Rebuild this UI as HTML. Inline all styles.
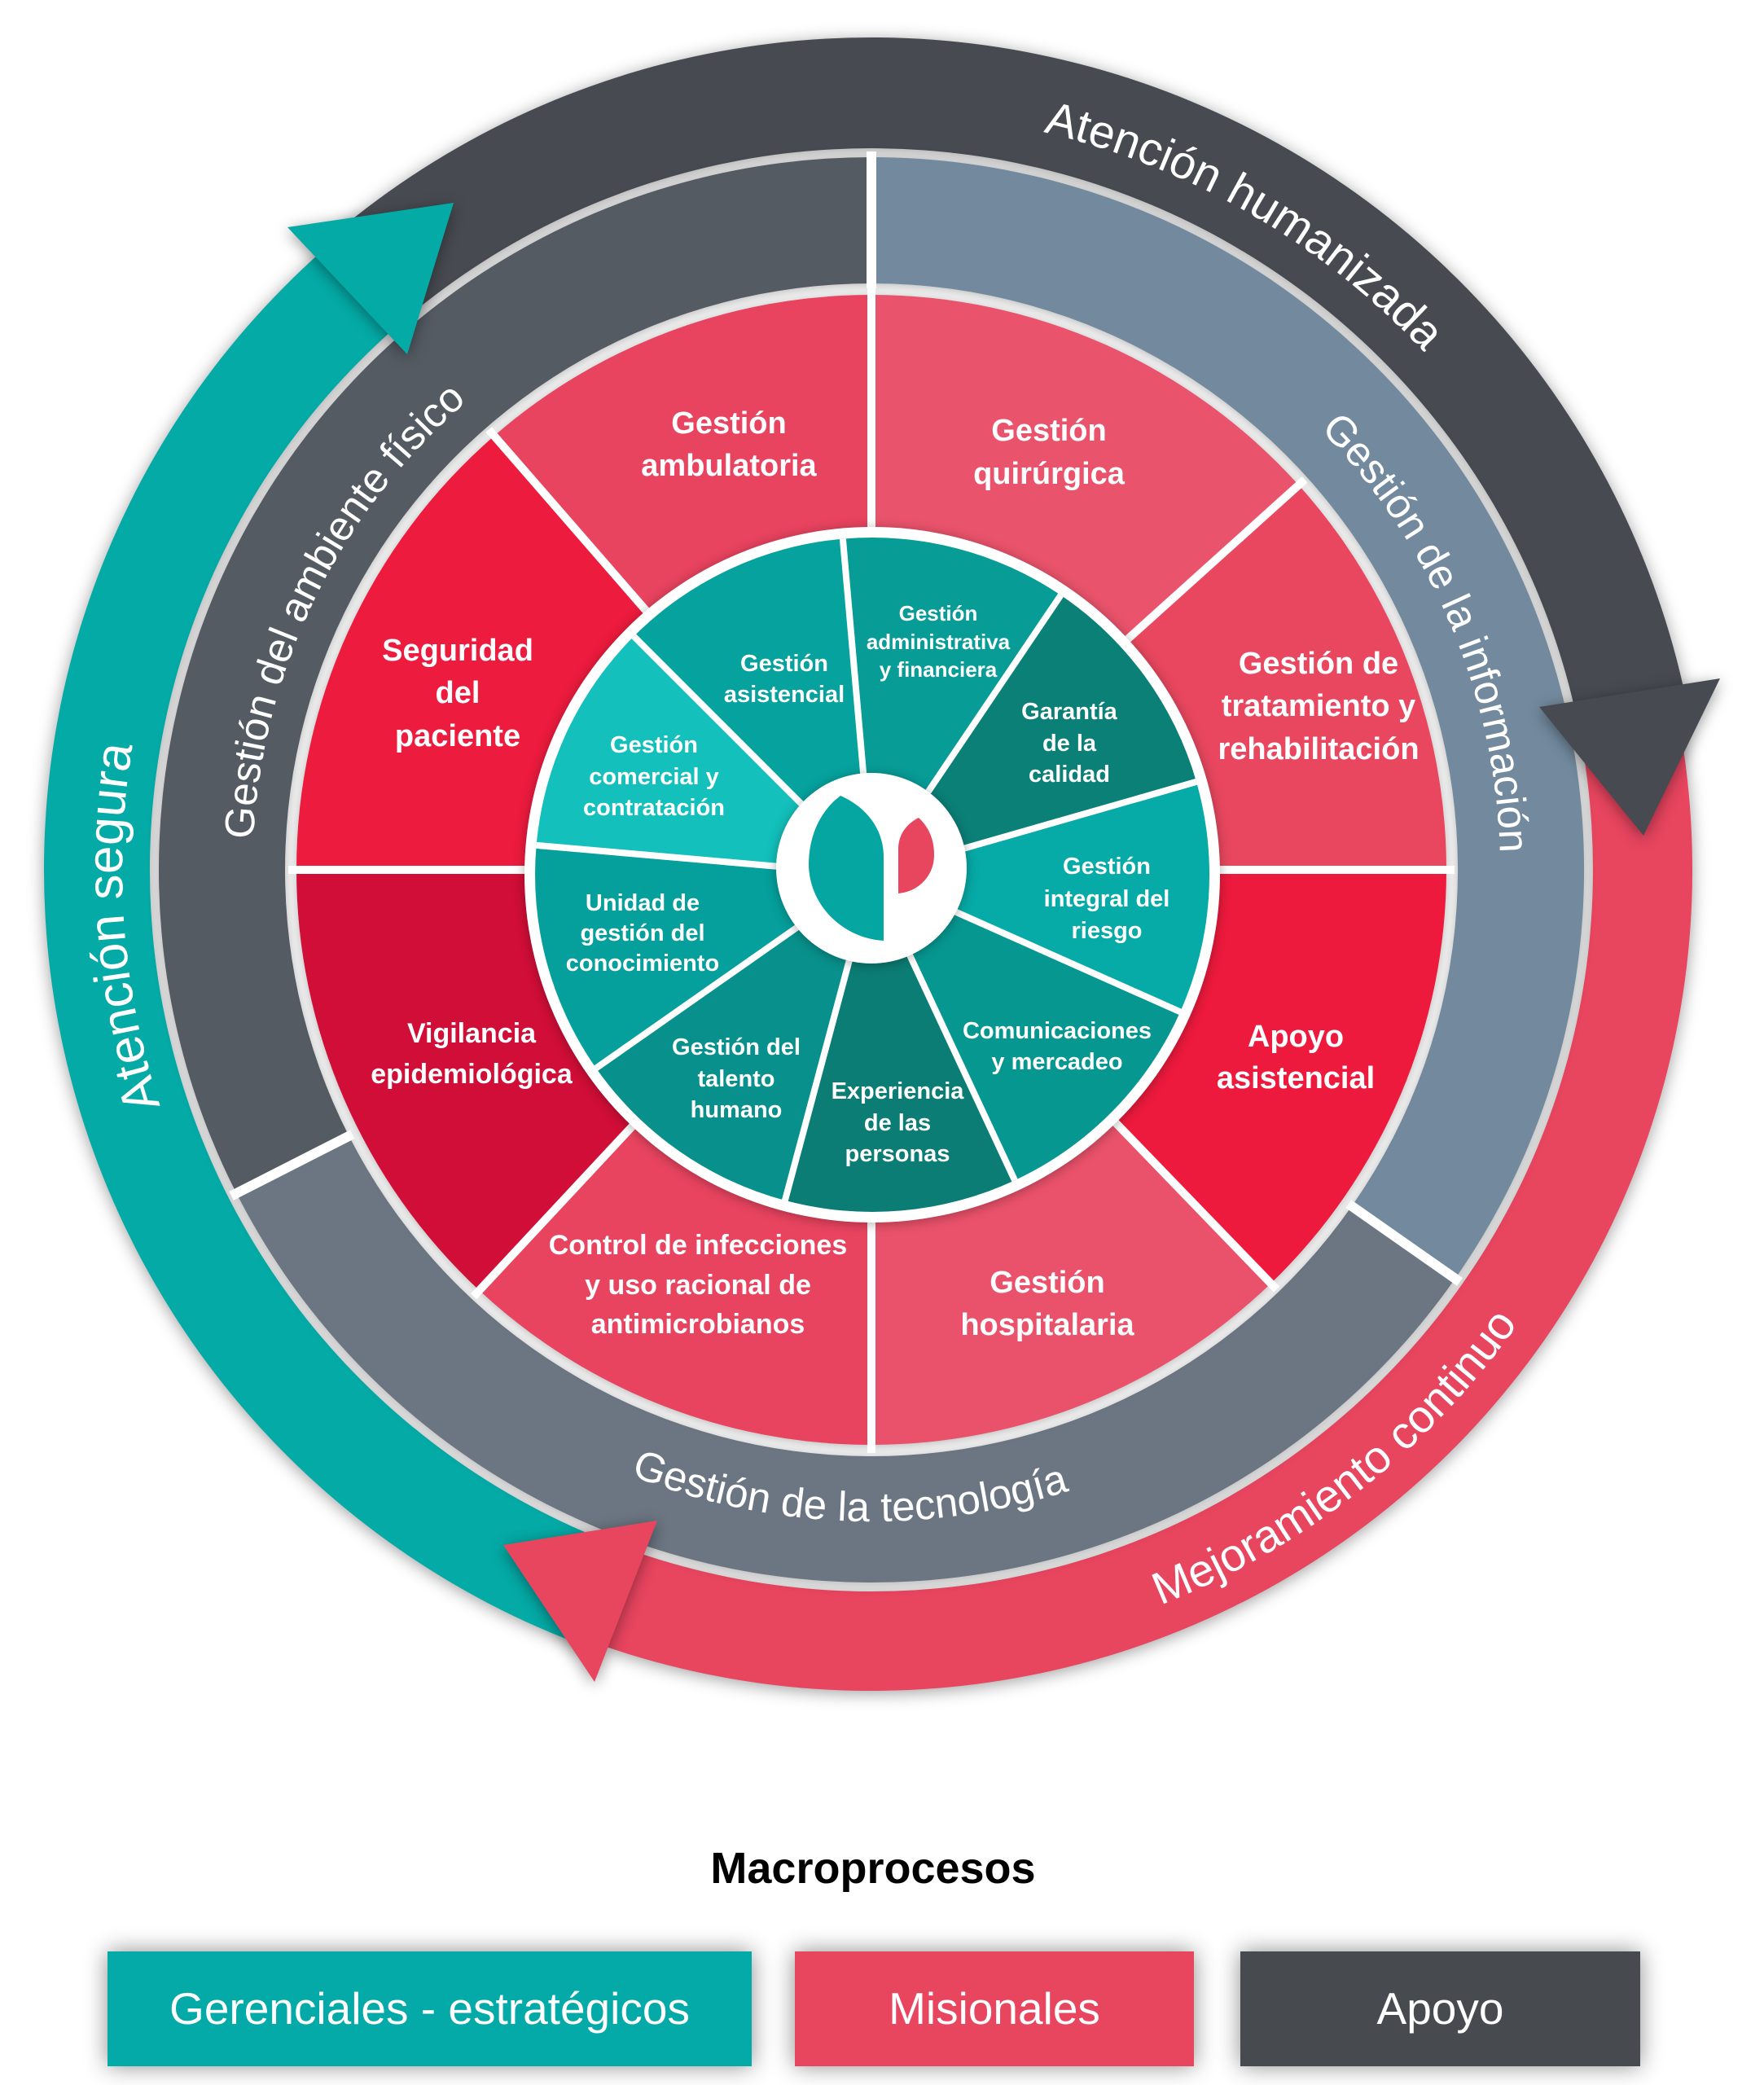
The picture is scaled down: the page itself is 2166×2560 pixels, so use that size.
<!DOCTYPE html>
<html>
<head>
<meta charset="utf-8">
<style>
html,body{margin:0;padding:0;background:#ffffff;}
body{width:2166px;height:2560px;overflow:hidden;position:relative;}
svg{position:absolute;left:0;top:0;display:block;}
text{font-family:"Liberation Sans",Arial,sans-serif;}
.pk{font-size:38px;font-weight:bold;fill:#ffffff;text-anchor:middle;}
.pk2{font-size:34px;font-weight:bold;fill:#ffffff;text-anchor:middle;}
.tl{font-size:29px;font-weight:bold;fill:#ffffff;text-anchor:middle;}
.tl2{font-size:26px;font-weight:bold;fill:#ffffff;text-anchor:middle;}
.rg{fill:#ffffff;font-weight:normal;}
.lg{font-size:55px;fill:#ffffff;text-anchor:middle;}
</style>
</head>
<body>
<svg width="2166" height="2560" viewBox="0 0 2166 2560" xmlns="http://www.w3.org/2000/svg">
<defs>
  <filter id="sh" x="-10%" y="-10%" width="120%" height="120%" color-interpolation-filters="sRGB">
    <feDropShadow dx="0" dy="3" stdDeviation="10" flood-color="#000" flood-opacity="0.38"/>
  </filter>
  <filter id="sht" x="-40%" y="-40%" width="180%" height="180%" color-interpolation-filters="sRGB">
    <feDropShadow dx="0" dy="4" stdDeviation="9" flood-color="#000" flood-opacity="0.4"/>
  </filter>
  <filter id="shs" x="-10%" y="-10%" width="120%" height="120%" color-interpolation-filters="sRGB">
    <feDropShadow dx="0" dy="2" stdDeviation="7" flood-color="#000" flood-opacity="0.3"/>
  </filter>
  <filter id="shb" x="-20%" y="-60%" width="140%" height="220%" color-interpolation-filters="sRGB">
    <feDropShadow dx="0" dy="0" stdDeviation="14" flood-color="#000" flood-opacity="0.45"/>
  </filter>
  <path id="pHum" d="M908.5,152.1 A930,930 0 0 1 1943.9,749.9" fill="none"/>
  <path id="pSeg" d="M412.7,1711.7 A920,920 0 0 1 321.9,532.5" fill="none"/>
  <path id="pMej" d="M1039.5,2037.5 A970,970 0 0 0 2019.5,1266.4" fill="none"/>
  <path id="pAmb" d="M332.6,1251.8 A760,760 0 0 1 760.9,373.7" fill="none"/>
  <path id="pInf" d="M1420.5,380.1 A772,772 0 0 1 1808.3,1293.7" fill="none"/>
  <path id="pTec" d="M534.7,1662.5 A800,800 0 0 0 1562.6,1698.4" fill="none"/>
</defs>

<!-- outer arrow bands -->
<path filter="url(#sh)" fill="#474b51" d="M413.0,285.1 A1022,1022 0 0 1 2069.6,855.5 L1936.6,883.8 A886,886 0 0 0 500.5,389.3 Z"/>
<path filter="url(#sh)" fill="#e8455f" d="M2059.5,875.7 A1008,1008 0 0 1 741.8,2021.1 L781.5,1905.7 A886,886 0 0 0 1939.7,898.9 Z"/>
<path filter="url(#sh)" fill="#04aaa6" d="M722.5,2022.7 A1016,1016 0 0 1 396.8,307.0 L482.9,404.4 A886,886 0 0 0 767.0,1900.6 Z"/>

<!-- gray ring -->
<g filter="url(#shs)">
<path fill="#738a9e" d="M1070,193 A875,875 0 0 1 1786.8,1569.9 L1659.8,1481.0 A720,720 0 0 0 1070,348 Z"/>
<path fill="#6b7682" d="M1786.8,1569.9 A875,875 0 0 1 290.4,1465.3 L428.5,1394.9 A720,720 0 0 0 1659.8,1481.0 Z"/>
<path fill="#545b63" d="M290.4,1465.3 A875,875 0 0 1 1070,193 L1070,348 A720,720 0 0 0 428.5,1394.9 Z"/>
</g>
<g stroke="#ffffff" stroke-width="12">
<line x1="1070" y1="186" x2="1070" y2="354"/>
<line x1="1655.7" y1="1478.1" x2="1792.5" y2="1573.9"/>
<line x1="432.9" y1="1392.6" x2="284.1" y2="1468.4"/>
</g>

<!-- arrowheads (on top of gray ring) -->
<polygon filter="url(#sht)" fill="#04aaa6" points="353,279 557,249 500,435"/>
<polygon filter="url(#sht)" fill="#e8455f" points="618,1897 807,1867 730,2065"/>
<polygon filter="url(#sht)" fill="#474b51" points="1890,868 2112,833 2018,1026"/>

<!-- pink wedges -->
<g filter="url(#shs)">
<path fill="#e9536b" d="M1070,1068 L1070,362 A706,706 0 0 1 1594.6,595.6 Z"/>
<path fill="#e8475f" d="M1070,1068 L1594.6,595.6 A706,706 0 0 1 1776,1068 Z"/>
<path fill="#ed1a3d" d="M1070,1068 L1776,1068 A706,706 0 0 1 1560.5,1575.8 Z"/>
<path fill="#ea526b" d="M1070,1068 L1560.5,1575.8 A706,706 0 0 1 1070,1774 Z"/>
<path fill="#e8445f" d="M1070,1068 L1070,1774 A706,706 0 0 1 588.5,1584.4 Z"/>
<path fill="#d10e37" d="M1070,1068 L588.5,1584.4 A706,706 0 0 1 364,1068 Z"/>
<path fill="#ed1b3e" d="M1070,1068 L364,1068 A706,706 0 0 1 606.8,535.2 Z"/>
<path fill="#e8435f" d="M1070,1068 L606.8,535.2 A706,706 0 0 1 1070,362 Z"/>
</g>
<g stroke="#ffffff" stroke-width="10">
<line x1="1070" y1="1068" x2="1786" y2="1068"/>
<line x1="1070" y1="1068" x2="1602.1" y2="588.9"/>
<line x1="1070" y1="1068" x2="1070" y2="352"/>
<line x1="1070" y1="1068" x2="600.2" y2="527.6"/>
<line x1="1070" y1="1068" x2="354" y2="1068"/>
<line x1="1070" y1="1068" x2="581.7" y2="1591.7"/>
<line x1="1070" y1="1068" x2="1070" y2="1784"/>
<line x1="1070" y1="1068" x2="1567.4" y2="1583.0"/>
</g>

<!-- teal disc -->
<circle cx="1071" cy="1074" r="427" fill="#ffffff" filter="url(#shs)"/>
<path fill="#06a29e" d="M1071,1074 L778.3,781.3 A414,414 0 0 1 1034.9,661.6 Z"/>
<path fill="#089c97" d="M1071,1074 L1034.9,661.6 A414,414 0 0 1 1302.5,730.8 Z"/>
<path fill="#0b8077" d="M1071,1074 L1302.5,730.8 A414,414 0 0 1 1469.0,959.9 Z"/>
<path fill="#06aaa6" d="M1071,1074 L1469.0,959.9 A414,414 0 0 1 1449.2,1242.4 Z"/>
<path fill="#079791" d="M1071,1074 L1449.2,1242.4 A414,414 0 0 1 1246.0,1449.2 Z"/>
<path fill="#0b7d74" d="M1071,1074 L1246.0,1449.2 A414,414 0 0 1 963.9,1473.9 Z"/>
<path fill="#08918c" d="M1071,1074 L963.9,1473.9 A414,414 0 0 1 731.9,1311.5 Z"/>
<path fill="#05a09c" d="M1071,1074 L731.9,1311.5 A414,414 0 0 1 658.6,1037.9 Z"/>
<path fill="#13c0bc" d="M1071,1074 L658.6,1037.9 A414,414 0 0 1 778.3,781.3 Z"/>
<g stroke="#ffffff" stroke-width="8">
<line x1="1071" y1="1074" x2="778.3" y2="781.3"/>
<line x1="1071" y1="1074" x2="1034.9" y2="661.6"/>
<line x1="1071" y1="1074" x2="1302.5" y2="730.8"/>
<line x1="1071" y1="1074" x2="1469.0" y2="959.9"/>
<line x1="1071" y1="1074" x2="1449.2" y2="1242.4"/>
<line x1="1071" y1="1074" x2="1246.0" y2="1449.2"/>
<line x1="1071" y1="1074" x2="963.9" y2="1473.9"/>
<line x1="1071" y1="1074" x2="731.9" y2="1311.5"/>
<line x1="1071" y1="1074" x2="658.6" y2="1037.9"/>
</g>

<!-- logo -->
<circle cx="1070" cy="1066" r="117" fill="#ffffff" filter="url(#shs)"/>
<path fill="#05a5a1" d="M1032,977 C1066,992 1085,1020 1085,1052 L1085,1155 C1035,1152 994,1112 993,1062 C993,1025 1008,995 1032,977 Z"/>
<path fill="#e8455f" d="M1128,1004 C1112,1012 1103,1026 1103,1042 L1103,1097 C1128,1095 1147,1075 1147,1050 C1147,1030 1140,1015 1128,1004 Z"/>

<!-- curved ring labels -->
<text class="rg" font-size="57"><textPath href="#pHum" startOffset="50%" text-anchor="middle">Atención humanizada</textPath></text>
<text class="rg" font-size="62"><textPath href="#pSeg" startOffset="50%" text-anchor="middle">Atención segura</textPath></text>
<text class="rg" font-size="56"><textPath href="#pMej" startOffset="50%" text-anchor="middle">Mejoramiento continuo</textPath></text>
<text class="rg" font-size="51"><textPath href="#pAmb" startOffset="50%" text-anchor="middle">Gestión del ambiente físico</textPath></text>
<text class="rg" font-size="51"><textPath href="#pInf" startOffset="50%" text-anchor="middle">Gestión de la información</textPath></text>
<text class="rg" font-size="51"><textPath href="#pTec" startOffset="50%" text-anchor="middle">Gestión de la tecnología</textPath></text>

<!-- pink labels -->
<text class="pk" x="895" y="532">Gestión</text>
<text class="pk" x="895" y="584">ambulatoria</text>
<text class="pk" x="1288" y="541">Gestión</text>
<text class="pk" x="1288" y="594">quirúrgica</text>
<text class="pk" x="1619" y="827">Gestión de</text>
<text class="pk" x="1619" y="879">tratamiento y</text>
<text class="pk" x="1619" y="932">rehabilitación</text>
<text class="pk" x="1591" y="1285">Apoyo</text>
<text class="pk" x="1591" y="1336">asistencial</text>
<text class="pk" x="1286" y="1587">Gestión</text>
<text class="pk" x="1286" y="1639">hospitalaria</text>
<text class="pk2" x="857" y="1540">Control de infecciones</text>
<text class="pk2" x="857" y="1589">y  uso racional de</text>
<text class="pk2" x="857" y="1637">antimicrobianos</text>
<text class="pk2" x="579" y="1280">Vigilancia</text>
<text class="pk2" x="579" y="1330">epidemiológica</text>
<text class="pk" x="562" y="811">Seguridad</text>
<text class="pk" x="562" y="863">del</text>
<text class="pk" x="562" y="916">paciente</text>

<!-- teal labels -->
<text class="tl" x="963" y="824">Gestión</text>
<text class="tl" x="963" y="862">asistencial</text>
<text class="tl2" x="1152" y="762">Gestión</text>
<text class="tl2" x="1152" y="797">administrativa</text>
<text class="tl2" x="1152" y="831">y financiera</text>
<text class="tl" x="1313" y="883">Garantía</text>
<text class="tl" x="1313" y="922">de la</text>
<text class="tl" x="1313" y="960">calidad</text>
<text class="tl" x="1359" y="1073">Gestión</text>
<text class="tl" x="1359" y="1113">integral del</text>
<text class="tl" x="1359" y="1152">riesgo</text>
<text class="tl" x="1298" y="1275">Comunicaciones</text>
<text class="tl" x="1298" y="1313">y mercadeo</text>
<text class="tl" x="1102" y="1349">Experiencia</text>
<text class="tl" x="1102" y="1388">de las</text>
<text class="tl" x="1102" y="1426">personas</text>
<text class="tl" x="904" y="1295">Gestión del</text>
<text class="tl" x="904" y="1334">talento</text>
<text class="tl" x="904" y="1372">humano</text>
<text class="tl" x="789" y="1118">Unidad de</text>
<text class="tl" x="789" y="1155">gestión del</text>
<text class="tl" x="789" y="1192">conocimiento</text>
<text class="tl" x="803" y="924">Gestión</text>
<text class="tl" x="803" y="963">comercial y</text>
<text class="tl" x="803" y="1001">contratación</text>

<!-- legend -->
<text x="1072" y="2312" font-size="54" font-weight="bold" fill="#000000" text-anchor="middle">Macroprocesos</text>
<rect x="132" y="2396" width="791" height="141" fill="#03aaa7" filter="url(#shb)"/>
<rect x="976" y="2396" width="490" height="141" fill="#e8455f" filter="url(#shb)"/>
<rect x="1523" y="2396" width="491" height="141" fill="#474b50" filter="url(#shb)"/>
<text class="lg" x="527.5" y="2485">Gerenciales - estratégicos</text>
<text class="lg" x="1221" y="2485">Misionales</text>
<text class="lg" x="1768.5" y="2485">Apoyo</text>
</svg>
</body>
</html>
